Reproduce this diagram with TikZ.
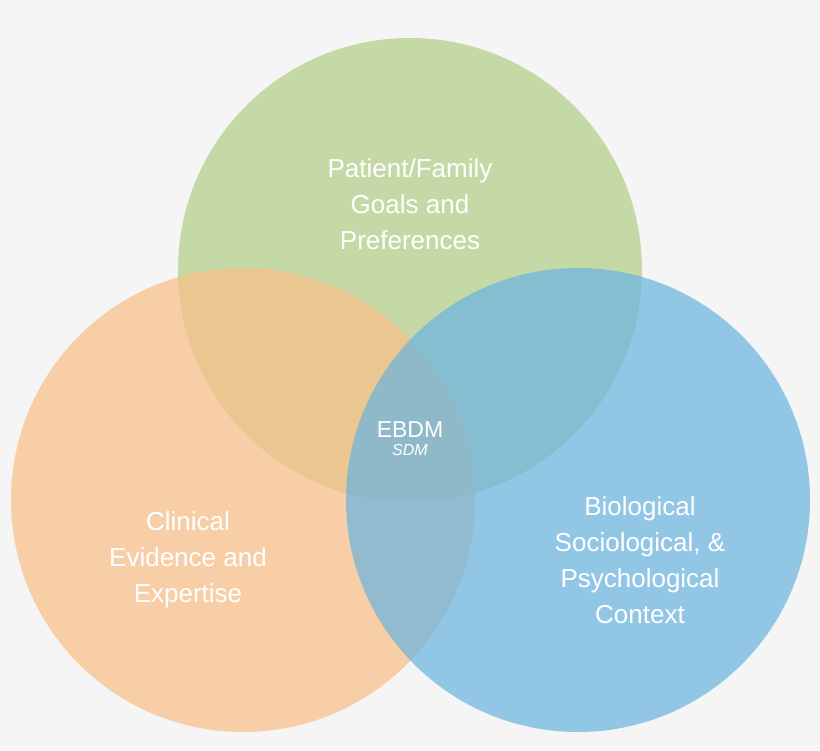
\documentclass[tikz,border=0pt]{standalone}
\usepackage{fontspec}
\setmainfont{Liberation Sans}
\usetikzlibrary{positioning}
\definecolor{bgray}{HTML}{F5F5F5}
\definecolor{cgreen}{HTML}{B3CF8A}
\definecolor{corange}{HTML}{F9BF88}
\definecolor{cblue}{HTML}{6CB4E0}
\tikzset{
  setc/.style={circle, minimum size=464pt, inner sep=0pt, fill opacity=0.72, draw=none},
  lbl/.style={text=white, align=center, font=\fontsize{26}{36}\selectfont}
}
\begin{document}
\begin{tikzpicture}[x=1pt, y=-1pt]
  \fill[bgray] (0,0) rectangle (820,751);
  \node[setc, fill=cgreen] (goals) at (410,270) {};
  \node[setc, fill=corange] (clinical) at (243,500) {};
  \node[setc, fill=cblue] (context) at (578,500) {};
  % labels
  \node[lbl] (goalstxt) at (410,204) {Patient/Family\\Goals and\\Preferences};
  \node[lbl] (clintxt) at (188,560) {Clinical\\Evidence and\\Expertise};
  \node[lbl] (ctxtxt) at (640,560) {Biological\\Sociological, \&\\Psychological\\Context};
  \node[text=white, font=\fontsize{23}{24}\selectfont, inner sep=0pt] (ebdm) at (410,430) {EBDM};
  \node[text=white, font=\fontsize{16}{18}\selectfont\itshape, inner sep=0pt, below=6pt of ebdm] (sdm) {SDM};
\end{tikzpicture}
\end{document}
